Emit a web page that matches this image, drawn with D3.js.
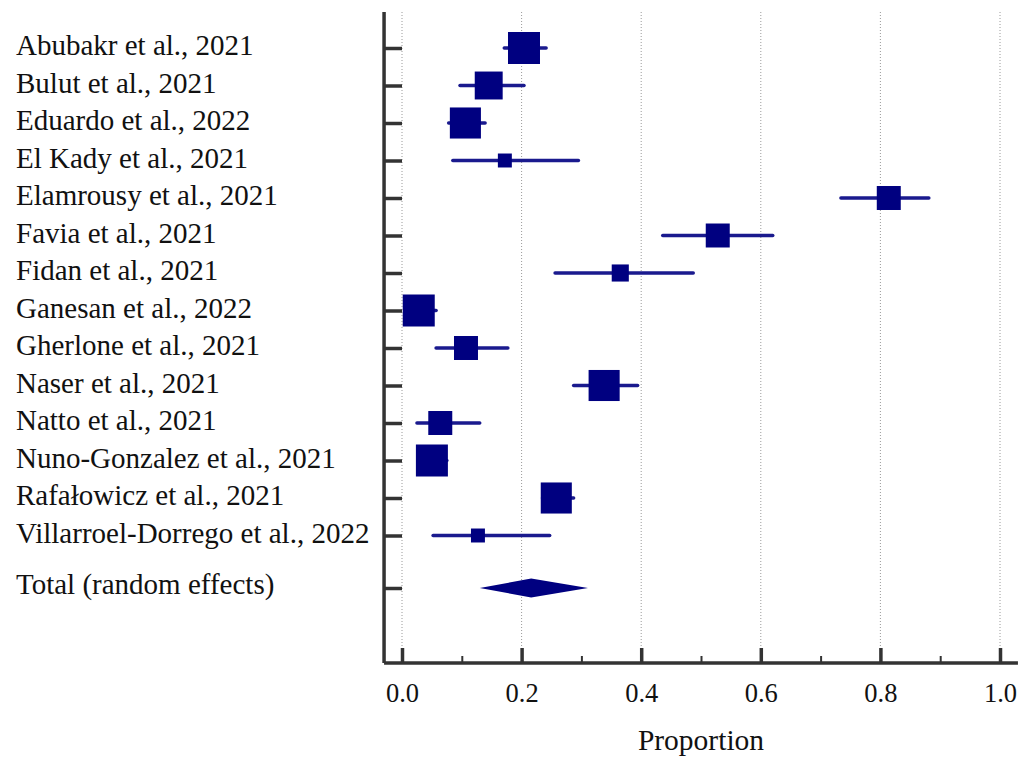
<!DOCTYPE html>
<html>
<head>
<meta charset="utf-8">
<script src="https://cdn.jsdelivr.net/npm/d3@7"></script>
<style>
  body { margin: 0; background: #fff; }
  text { font-family: "Liberation Serif", "DejaVu Serif", serif; fill: #111; }
</style>
</head>
<body>
<div id="forest"></div>
<script>
// study labels and estimates (proportion with 95% CI)
var studies = [
  "Abubakr et al., 2021", "Bulut et al., 2021", "Eduardo et al., 2022",
  "El Kady et al., 2021", "Elamrousy et al., 2021", "Favia et al., 2021",
  "Fidan et al., 2021", "Ganesan et al., 2022", "Gherlone et al., 2021",
  "Naser et al., 2021", "Natto et al., 2021", "Nuno-Gonzalez et al., 2021",
  "Rafałowicz et al., 2021", "Villarroel-Dorrego et al., 2022"
];
var est = [0.204, 0.145, 0.106, 0.172, 0.814, 0.528, 0.365, 0.028, 0.107, 0.338, 0.064, 0.050, 0.258, 0.127];
var lo  = [0.171, 0.097, 0.078, 0.085, 0.734, 0.436, 0.256, 0.010, 0.057, 0.287, 0.025, 0.030, 0.235, 0.052];
var hi  = [0.241, 0.204, 0.139, 0.295, 0.881, 0.620, 0.487, 0.057, 0.177, 0.394, 0.130, 0.075, 0.287, 0.247];
var weight = [10.5, 8.0, 9.9, 2.0, 5.9, 5.9, 3.0, 10.5, 5.9, 9.9, 5.9, 10.5, 9.9, 2.0];

var totalLabel = "Total (random effects)";
var total = { est: 0.216, lo: 0.130, hi: 0.311 };

var xTicks = [0, 0.2, 0.4, 0.6, 0.8, 1.0];
var xMinor = [0.1, 0.3, 0.5, 0.7, 0.9];
var xTitle = "Proportion";

var width = 1034, height = 760;

var svg = d3.select("#forest").append("svg")
  .attr("width", width)
  .attr("height", height);

// scales
var x = d3.scaleLinear().domain([0, 1]).range([402, 1000]);
var y = d3.scaleLinear().domain([0, 17.4]).range([10.5, 663]);
var side = d3.scaleSqrt().domain([0, 10.5]).range([0, 32]);

var rows = studies.map(function(d, i) {
  return { name: d, est: est[i], lo: lo[i], hi: hi[i], w: weight[i], pos: i + 1 };
});
var totalPos = 15.4;

var axisX = x(-0.03), axisY = y(17.4), axisTop = 12;

// dotted grid lines
svg.append("g").selectAll("line").data(xTicks).enter().append("line")
  .attr("x1", function(d) { return x(d); })
  .attr("x2", function(d) { return x(d); })
  .attr("y1", axisTop)
  .attr("y2", axisY - 15)
  .attr("stroke", "#9a9a9a")
  .attr("stroke-width", 1)
  .attr("stroke-dasharray", "1,2");

// y axis with a tick per row
var yAxis = d3.axisRight(y)
  .tickValues(rows.map(function(d) { return d.pos; }).concat([totalPos]))
  .tickSize(x(0) - axisX)
  .tickSizeOuter(0)
  .tickFormat("");

var gy = svg.append("g")
  .attr("transform", "translate(" + axisX + ",0)")
  .call(yAxis);
gy.select(".domain").remove();
gy.selectAll(".tick line").attr("stroke", "#333").attr("stroke-width", 3.5);

svg.append("line")
  .attr("x1", axisX).attr("x2", axisX)
  .attr("y1", axisTop).attr("y2", axisY)
  .attr("stroke", "#333").attr("stroke-width", 3.5);

// x axis: major ticks with labels, minor ticks
var xAxis = d3.axisBottom(x)
  .tickValues(xTicks)
  .tickSize(-15)
  .tickPadding(20.5)
  .tickFormat(d3.format(".1f"));

var gx = svg.append("g")
  .attr("transform", "translate(0," + axisY + ")")
  .call(xAxis);
gx.select(".domain").remove();
gx.selectAll(".tick line").attr("stroke", "#333").attr("stroke-width", 3.5);
gx.selectAll(".tick text")
  .attr("fill", "#111")
  .style("font-family", "'Liberation Serif', serif")
  .style("font-size", "26.5px");

var xAxisMinor = d3.axisBottom(x).tickValues(xMinor).tickSize(-7).tickFormat("");
var gxm = svg.append("g")
  .attr("transform", "translate(0," + axisY + ")")
  .call(xAxisMinor);
gxm.select(".domain").remove();
gxm.selectAll(".tick line").attr("stroke", "#333").attr("stroke-width", 2);

svg.append("line")
  .attr("x1", axisX).attr("x2", x(1.03))
  .attr("y1", axisY).attr("y2", axisY)
  .attr("stroke", "#333").attr("stroke-width", 3.5);

svg.append("text")
  .attr("x", (x(0) + x(1)) / 2)
  .attr("y", 750)
  .attr("text-anchor", "middle")
  .style("font-size", "29.5px")
  .text(xTitle);

// study labels
svg.append("g").selectAll("text").data(rows).enter().append("text")
  .attr("x", 16)
  .attr("y", function(d) { return y(d.pos) + 7; })
  .style("font-size", "29px")
  .text(function(d) { return d.name; });

svg.append("text")
  .attr("x", 16)
  .attr("y", y(totalPos) + 6)
  .style("font-size", "29px")
  .text(totalLabel);

// confidence intervals
svg.append("g").selectAll("line").data(rows).enter().append("line")
  .attr("x1", function(d) { return x(d.lo); })
  .attr("x2", function(d) { return x(d.hi); })
  .attr("y1", function(d) { return y(d.pos); })
  .attr("y2", function(d) { return y(d.pos); })
  .attr("stroke", "#1a1a8e")
  .attr("stroke-width", 3.5)
  .attr("stroke-linecap", "round");

// weighted squares
svg.append("g").selectAll("rect").data(rows).enter().append("rect")
  .attr("x", function(d) { return x(d.est) - side(d.w) / 2; })
  .attr("y", function(d) { return y(d.pos) - side(d.w) / 2; })
  .attr("width", function(d) { return side(d.w); })
  .attr("height", function(d) { return side(d.w); })
  .attr("fill", "#000080");

// pooled diamond
var yt = y(totalPos);
svg.append("path")
  .attr("d", "M" + x(total.lo) + "," + yt +
             "L" + x(total.est) + "," + (yt - 9.5) +
             "L" + x(total.hi) + "," + yt +
             "L" + x(total.est) + "," + (yt + 9.5) + "Z")
  .attr("fill", "#000080");
</script>
</body>
</html>
